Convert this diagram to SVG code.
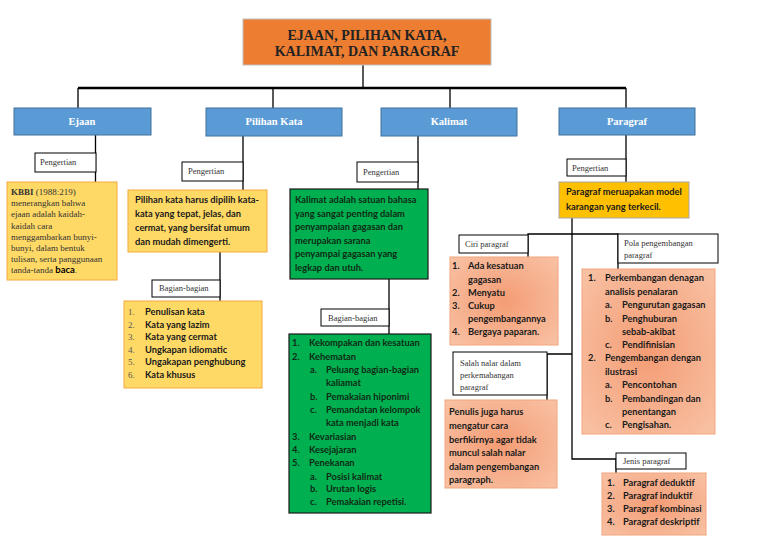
<svg xmlns="http://www.w3.org/2000/svg" width="768" height="543" viewBox="0 0 768 543">
<defs>
<radialGradient id="salmon" cx="50%" cy="50%" r="70%">
<stop offset="0%" stop-color="#F49C74"/>
<stop offset="100%" stop-color="#F8C2A5"/>
</radialGradient>
<style>
.con{fill:none;stroke:#000;stroke-width:1.3}
.thick{stroke-width:2.5}
.lbl{fill:#fff;stroke:#000;stroke-width:1}
.lt{font-family:"Liberation Serif",serif;font-size:8.5px;fill:#333}
.blue{fill:#5B9BD5;stroke:#41719C;stroke-width:1}
.bt{font-family:"Liberation Serif",serif;font-size:10.5px;font-weight:bold;fill:#fff;text-anchor:middle}
.yel{fill:#FFD966;stroke:#F4A840;stroke-width:1}
.gold{fill:#FFC000;stroke:#A6A6A6;stroke-width:1}
.grn{fill:#00B050;stroke:#1a1a1a;stroke-width:1.2}
.sal{fill:url(#salmon);stroke:#F4A57C;stroke-width:1}
.st{font-family:Lato,"Noto Sans",sans-serif;font-size:9.3px;font-weight:bold;fill:#1a1a1a}
.gt{font-family:Lato,"Noto Sans",sans-serif;font-size:9.3px;font-weight:bold;fill:#0f2a14}
.sr{font-family:"Liberation Serif",serif;font-size:9px;fill:#333}
.num{font-family:"Liberation Serif",serif;font-size:9px;fill:#555}
</style>
</defs>
<rect width="768" height="543" fill="#fff"/>

<g id="connectors">
<path class="con" d="M363 65 V88"/>
<path class="con thick" d="M78 88 H626"/>
<path class="con" d="M78 88 V108 M273 88 V108 M450 88 V108 M626 88 V108"/>
<path class="con" d="M95.5 135 V182"/>
<path class="con" d="M243 136 V190 M220 252 V301"/>
<path class="con" d="M418 136 V189"/>
<path class="con" d="M389 279 V334" stroke-width="2"/>
<path class="con" d="M626 135 V182"/>
<path class="con" d="M572 218 V459 H616 V473"/>
<path class="con" d="M528 257 V234 H618 V269"/>
<path class="con" d="M572 354 H547 V400"/>
</g>

<g id="title">
<rect x="243" y="19" width="248" height="46" fill="#ED7D31" stroke="#BFBFBF" stroke-width="1"/>
<text x="367" y="40" font-family="Liberation Serif,serif" font-size="14" font-weight="bold" fill="#222" text-anchor="middle">EJAAN, PILIHAN KATA,</text>
<text x="367" y="56" font-family="Liberation Serif,serif" font-size="14" font-weight="bold" fill="#222" text-anchor="middle">KALIMAT, DAN PARAGRAF</text>
</g>

<g id="ejaan"><rect class="blue" x="14" y="108" width="137" height="27"/><text class="bt" x="82" y="125">Ejaan</text></g>
<g id="pilihan-kata"><rect class="blue" x="206" y="108" width="136" height="28"/><text class="bt" x="274" y="125">Pilihan Kata</text></g>
<g id="kalimat"><rect class="blue" x="381" y="108" width="136" height="28"/><text class="bt" x="449" y="125">Kalimat</text></g>
<g id="paragraf"><rect class="blue" x="559" y="108" width="136" height="27"/><text class="bt" x="627" y="125">Paragraf</text></g>

<g id="ejaan-pengertian-label"><rect class="lbl" x="35" y="153" width="61" height="19"/><text class="lt" x="40" y="165">Pengertian</text></g>
<g id="ejaan-pengertian">
<rect class="yel" x="7" y="182" width="110" height="98"/>
<text class="sr" x="11" y="195"><tspan font-weight="bold">KBBI</tspan> (1988:219)</text>
<text class="sr" x="11" y="206">menerangkan bahwa</text>
<text class="sr" x="11" y="217">ejaan adalah kaidah-</text>
<text class="sr" x="11" y="228.5">kaidah cara</text>
<text class="sr" x="11" y="239.5">menggambarkan bunyi-</text>
<text class="sr" x="11" y="250.5">bunyi, dalam bentuk</text>
<text class="sr" x="11" y="262">tulisan, serta panggunaan</text>
<text class="sr" x="11" y="273">tanda-tanda <tspan font-family="Lato,sans-serif" font-weight="bold" font-size="9.5" fill="#000">baca</tspan>.</text>
</g>

<g id="pilihan-pengertian-label"><rect class="lbl" x="182" y="162" width="61" height="19"/><text class="lt" x="188" y="174">Pengertian</text></g>
<g id="pilihan-pengertian">
<rect class="yel" x="128" y="190" width="139" height="62"/>
<text class="st" x="135" y="203" font-size="9">Pilihan kata harus dipilih kata-</text>
<text class="st" x="135" y="217" font-size="9">kata yang tepat, jelas, dan</text>
<text class="st" x="135" y="231" font-size="9">cermat, yang bersifat umum</text>
<text class="st" x="135" y="245" font-size="9">dan mudah dimengerti.</text>
</g>

<g id="pilihan-bagian-label"><rect class="lbl" x="152" y="280" width="68" height="17"/><text class="lt" x="159" y="291">Bagian-bagian</text></g>
<g id="pilihan-bagian">
<rect class="yel" x="124" y="301" width="138" height="87"/>
<text class="num" x="128" y="315">1.</text><text class="st" x="145" y="315" font-size="9">Penulisan kata</text>
<text class="num" x="128" y="327.5">2.</text><text class="st" x="145" y="327.5" font-size="9">Kata yang lazim</text>
<text class="num" x="128" y="340">3.</text><text class="st" x="145" y="340" font-size="9">Kata yang cermat</text>
<text class="num" x="128" y="352.5">4.</text><text class="st" x="145" y="352.5" font-size="9">Ungkapan idiomatic</text>
<text class="num" x="128" y="365">5.</text><text class="st" x="145" y="365" font-size="9">Ungakapan penghubung</text>
<text class="num" x="128" y="377.5">6.</text><text class="st" x="145" y="377.5" font-size="9">Kata khusus</text>
</g>

<g id="kalimat-pengertian-label"><rect class="lbl" x="357" y="162" width="61" height="20"/><text class="lt" x="363" y="174.5">Pengertian</text></g>
<g id="kalimat-pengertian">
<rect class="grn" x="290" y="189" width="138" height="90"/>
<text class="gt" x="295" y="203">Kalimat adalah satuan bahasa</text>
<text class="gt" x="295" y="216.5">yang sangat penting dalam</text>
<text class="gt" x="295" y="230">penyampaian gagasan dan</text>
<text class="gt" x="295" y="243.5">merupakan sarana</text>
<text class="gt" x="295" y="257">penyampai  gagasan yang</text>
<text class="gt" x="295" y="270.5">legkap dan utuh.</text>
</g>

<g id="kalimat-bagian-label"><rect class="lbl" x="321" y="309" width="68" height="17"/><text class="lt" x="328" y="320.5">Bagian-bagian</text></g>
<g id="kalimat-bagian">
<rect class="grn" x="289" y="334" width="142" height="179"/>
<text class="gt" x="292" y="346">1.</text><text class="gt" x="309" y="346">Kekompakan dan kesatuan</text>
<text class="gt" x="292" y="360">2.</text><text class="gt" x="309" y="360">Kehematan</text>
<text class="gt" x="310" y="373">a.</text><text class="gt" x="326" y="373">Peluang bagian-bagian</text>
<text class="gt" x="326" y="386">kaliamat</text>
<text class="gt" x="310" y="400">b.</text><text class="gt" x="326" y="400">Pemakaian hiponimi</text>
<text class="gt" x="310" y="413">c.</text><text class="gt" x="326" y="413">Pemandatan kelompok</text>
<text class="gt" x="326" y="426">kata menjadi kata</text>
<text class="gt" x="292" y="440">3.</text><text class="gt" x="309" y="440">Kevariasian</text>
<text class="gt" x="292" y="453">4.</text><text class="gt" x="309" y="453">Kesejajaran</text>
<text class="gt" x="292" y="466">5.</text><text class="gt" x="309" y="466">Penekanan</text>
<text class="gt" x="310" y="480">a.</text><text class="gt" x="326" y="480">Posisi kalimat</text>
<text class="gt" x="310" y="492">b.</text><text class="gt" x="326" y="492">Urutan logis</text>
<text class="gt" x="310" y="505">c.</text><text class="gt" x="326" y="505">Pemakaian repetisi.</text>
</g>

<g id="paragraf-pengertian-label"><rect class="lbl" x="567" y="159" width="59" height="17"/><text class="lt" x="572" y="170.5">Pengertian</text></g>
<g id="paragraf-pengertian">
<rect class="gold" x="559" y="182" width="130" height="36"/>
<text class="st" x="566" y="195">Paragraf meruapakan model</text>
<text class="st" x="566" y="210">karangan yang terkecil.</text>
</g>

<g id="ciri-label"><rect class="lbl" x="459" y="235" width="69" height="18"/><text class="lt" x="465" y="247">Ciri paragraf</text></g>
<g id="ciri">
<rect class="sal" x="450" y="257" width="108" height="88"/>
<text class="st" x="452" y="269">1.</text><text class="st" x="468" y="269">Ada kesatuan</text>
<text class="st" x="468" y="283">gagasan</text>
<text class="st" x="452" y="296">2.</text><text class="st" x="468" y="296">Menyatu</text>
<text class="st" x="452" y="309">3.</text><text class="st" x="468" y="309">Cukup</text>
<text class="st" x="468" y="322">pengembangannya</text>
<text class="st" x="452" y="335">4.</text><text class="st" x="468" y="335">Bergaya paparan.</text>
</g>

<g id="pola-label"><rect class="lbl" x="618" y="234" width="100" height="29"/><text class="lt" x="624" y="246">Pola pengembangan</text><text class="lt" x="624" y="258">paragraf</text></g>
<g id="pola">
<rect class="sal" x="582" y="269" width="133" height="165"/>
<text class="st" x="588" y="281">1.</text><text class="st" x="605" y="281">Perkembangan denagan</text>
<text class="st" x="605" y="294.5">analisis penalaran</text>
<text class="st" x="605" y="308">a.</text><text class="st" x="622" y="308">Pengurutan gagasan</text>
<text class="st" x="605" y="321.5">b.</text><text class="st" x="622" y="321.5">Penghuburan</text>
<text class="st" x="622" y="335">sebab-akibat</text>
<text class="st" x="605" y="348">c.</text><text class="st" x="622" y="348">Pendifinisian</text>
<text class="st" x="588" y="361">2.</text><text class="st" x="605" y="361">Pengembangan dengan</text>
<text class="st" x="605" y="374.5">ilustrasi</text>
<text class="st" x="605" y="388">a.</text><text class="st" x="622" y="388">Pencontohan</text>
<text class="st" x="605" y="401.5">b.</text><text class="st" x="622" y="401.5">Pembandingan dan</text>
<text class="st" x="622" y="414.5">penentangan</text>
<text class="st" x="605" y="427.5">c.</text><text class="st" x="622" y="427.5">Pengisahan.</text>
</g>

<g id="salah-label"><rect class="lbl" x="453" y="352" width="94" height="43"/><text class="lt" x="460" y="366">Salah nalar dalam</text><text class="lt" x="460" y="378">perkemabangan</text><text class="lt" x="460" y="390">paragraf</text></g>
<g id="salah">
<rect class="sal" x="445" y="400" width="112" height="88"/>
<text class="st" x="449" y="415">Penulis juga harus</text>
<text class="st" x="449" y="429">mengatur cara</text>
<text class="st" x="449" y="443">berfikirnya agar tidak</text>
<text class="st" x="449" y="456">muncul salah nalar</text>
<text class="st" x="449" y="470">dalam pengembangan</text>
<text class="st" x="449" y="483">paragraph.</text>
</g>

<g id="jenis-label"><rect class="lbl" x="616" y="453" width="70" height="16"/><text class="lt" x="623" y="464">Jenis paragraf</text></g>
<g id="jenis">
<rect class="sal" x="602" y="473" width="104" height="62"/>
<text class="st" x="607" y="486">1.</text><text class="st" x="623" y="486">Paragraf deduktif</text>
<text class="st" x="607" y="498.5">2.</text><text class="st" x="623" y="498.5">Paragraf induktif</text>
<text class="st" x="607" y="511.5">3.</text><text class="st" x="623" y="511.5">Paragraf kombinasi</text>
<text class="st" x="607" y="524.5">4.</text><text class="st" x="623" y="524.5">Paragraf deskriptif</text>
</g>
</svg>
